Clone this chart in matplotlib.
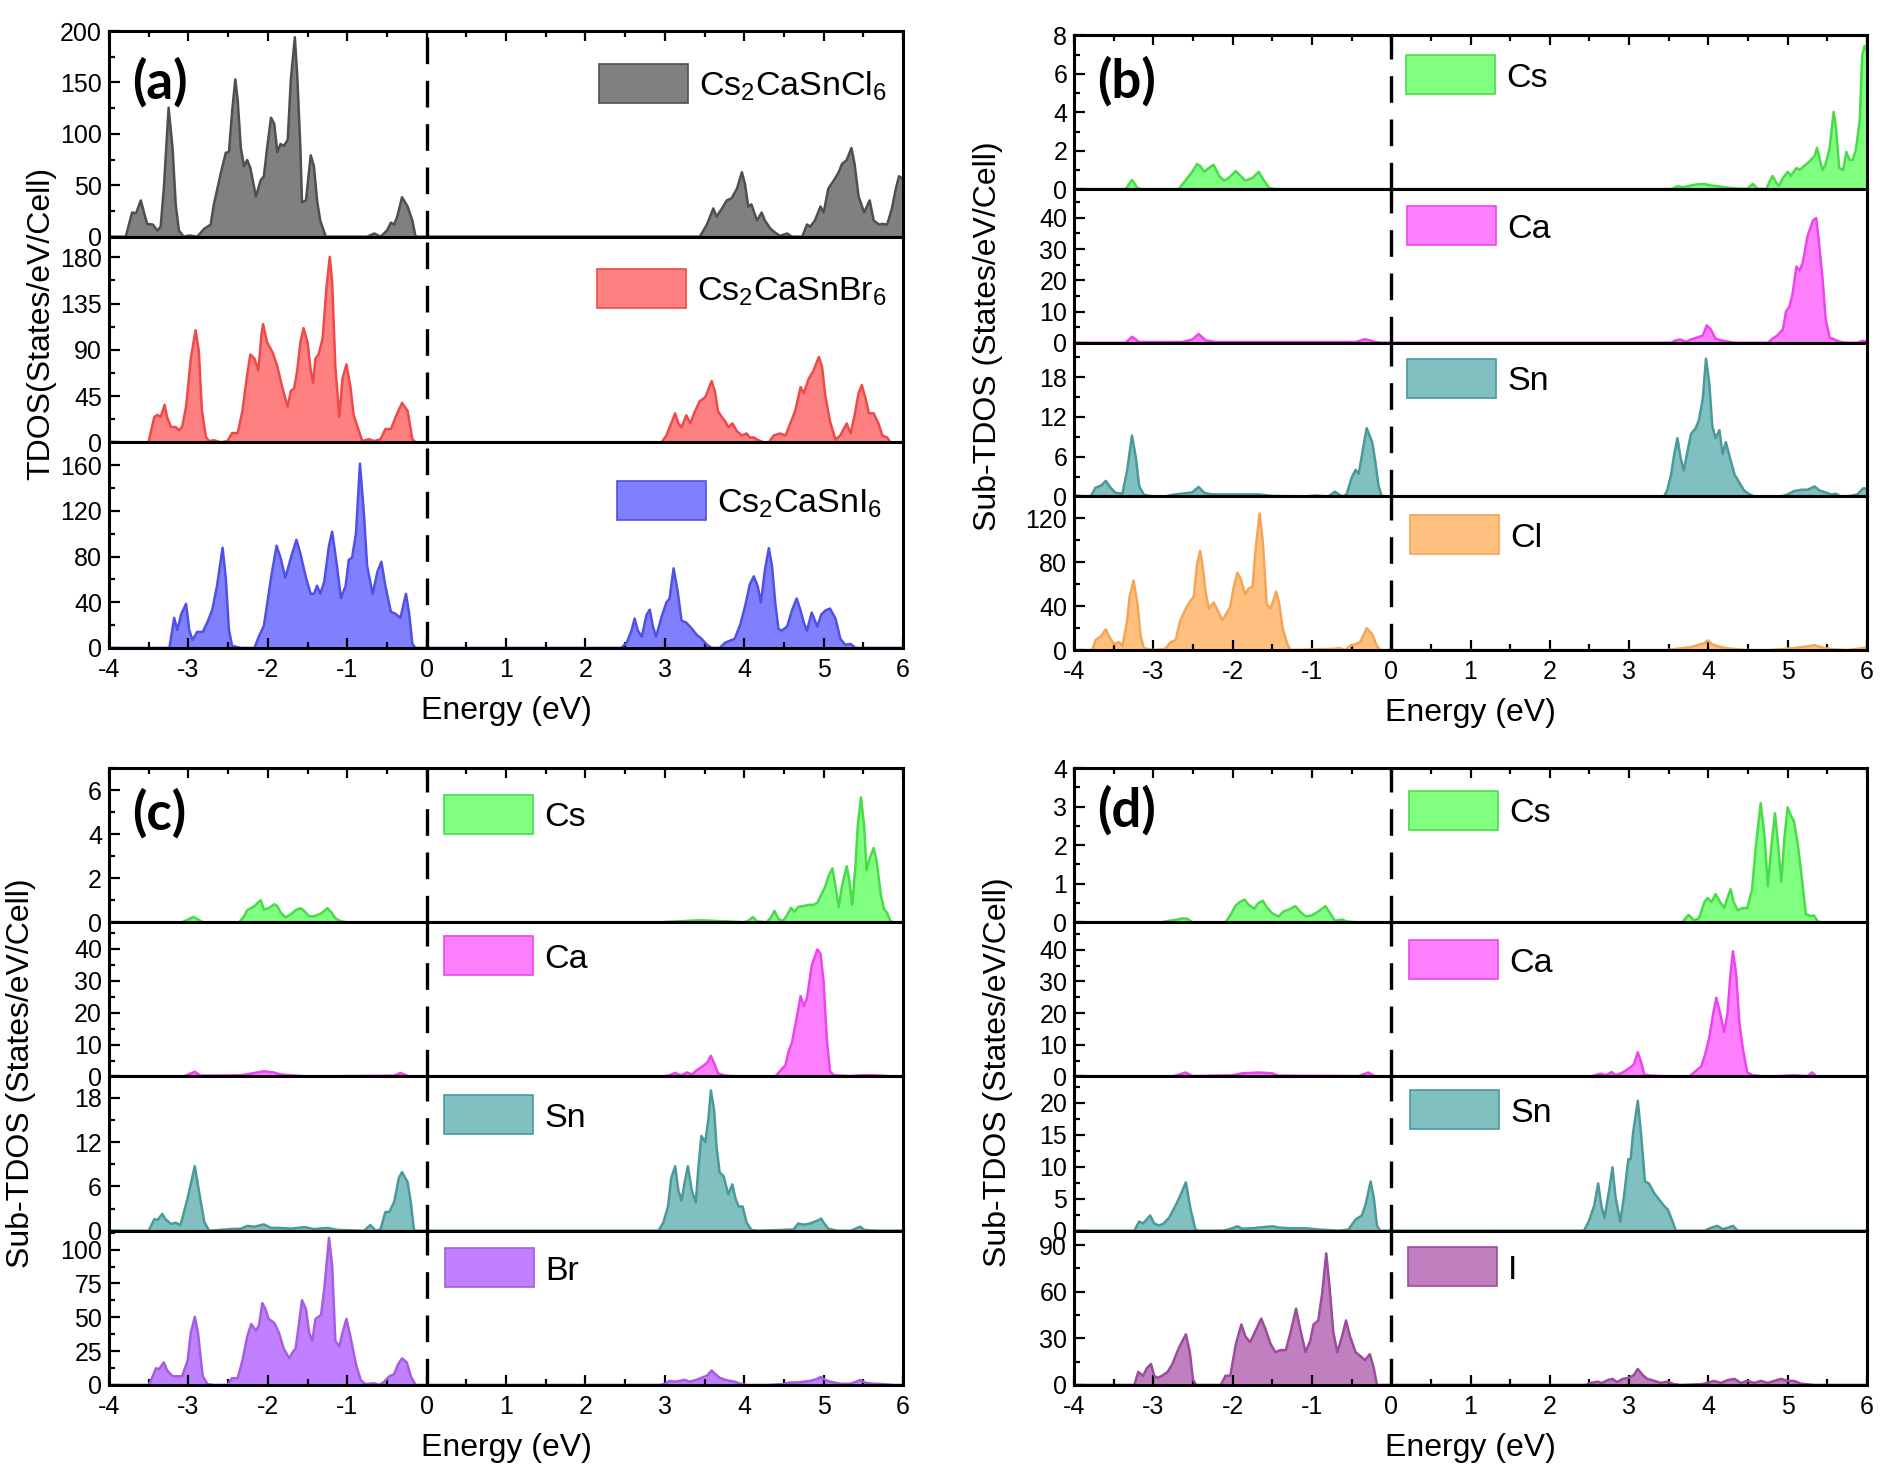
import numpy as np
import matplotlib
matplotlib.use("Agg")
import matplotlib.pyplot as plt
from matplotlib.patches import Rectangle
from matplotlib.ticker import MultipleLocator

# ---------------------------------------------------------------------------
# DOS curves: (energy in eV, states/eV/cell)
# ---------------------------------------------------------------------------
# panel (a): total DOS of the three compounds
tdos_cl6 = [(-4.0, 0), (-3.79, 0), (-3.71, 23.5), (-3.66, 22.7), (-3.60, 35.3), (-3.56, 23.5), (-3.52, 12.5),
            (-3.45, 11.8), (-3.39, 5.9), (-3.35, 9.8), (-3.31, 47), (-3.25, 125.5), (-3.20, 86), (-3.16, 31),
            (-3.12, 6), (-3.06, 0), (-2.99, 1.2), (-2.89, 0), (-2.80, 7.8), (-2.76, 9.8), (-2.72, 11.8),
            (-2.68, 31.4), (-2.59, 62.7), (-2.53, 81.6), (-2.49, 82.4), (-2.45, 121.6), (-2.41, 153), (-2.38, 133),
            (-2.34, 86), (-2.30, 68.6), (-2.26, 74.5), (-2.22, 66.7), (-2.15, 39.2), (-2.09, 54.9), (-2.05, 58.8),
            (-2.01, 86), (-1.96, 115.7), (-1.92, 109.8), (-1.88, 82.4), (-1.84, 90.2), (-1.80, 88.2), (-1.75, 94.1),
            (-1.71, 153), (-1.66, 194), (-1.63, 157), (-1.59, 86), (-1.57, 33.3), (-1.52, 35.3), (-1.46, 79.2),
            (-1.42, 68.6), (-1.38, 35.3), (-1.34, 15.7), (-1.27, 0), (-0.75, 0), (-0.66, 3.1), (-0.58, 0),
            (-0.50, 5.9), (-0.45, 13.7), (-0.41, 11.8), (-0.37, 19.6), (-0.31, 38.4), (-0.24, 29.4), (-0.18, 15.7),
            (-0.14, 0), (3.44, 0), (3.53, 11.8), (3.61, 27.5), (3.65, 19.6), (3.72, 27.5), (3.78, 35.3),
            (3.84, 37.3), (3.91, 47), (3.97, 62.7), (4.01, 51), (4.05, 29.4), (4.09, 31.4), (4.16, 15.7),
            (4.22, 23.5), (4.26, 15.7), (4.33, 7.8), (4.39, 3.9), (4.45, 0.8), (4.54, 3.1), (4.60, 0), (4.73, 0),
            (4.79, 11.8), (4.83, 9.8), (4.89, 15.7), (4.96, 29.4), (5.00, 23.5), (5.06, 47), (5.13, 54.9),
            (5.19, 62.7), (5.23, 70.6), (5.29, 74.5), (5.35, 86.3), (5.39, 70.6), (5.44, 39.2), (5.51, 23.5),
            (5.58, 35.3), (5.63, 15.7), (5.70, 11.8), (5.74, 12.5), (5.80, 11.8), (5.86, 27.5), (5.91, 47),
            (5.95, 58.8), (6.0, 56)]
tdos_br6 = [(-4.0, 0), (-3.52, 0), (-3.50, 1.2), (-3.43, 24.7), (-3.39, 26.7), (-3.35, 24.7), (-3.30, 36.5),
            (-3.27, 24.7), (-3.22, 14.9), (-3.16, 14.9), (-3.12, 11.8), (-3.08, 14.9), (-3.03, 34.5), (-2.97, 81.6),
            (-2.91, 109), (-2.87, 89.4), (-2.83, 30.6), (-2.78, 5.1), (-2.74, 1.2), (-2.68, 2), (-2.59, 0),
            (-2.51, 1.2), (-2.45, 9), (-2.38, 9), (-2.32, 30.6), (-2.26, 65.9), (-2.22, 85.5), (-2.17, 81.6),
            (-2.12, 69.8), (-2.08, 105), (-2.06, 114.9), (-2.01, 97.3), (-1.94, 87.5), (-1.88, 73.7), (-1.82, 54.1),
            (-1.75, 34.5), (-1.71, 50.2), (-1.67, 52.2), (-1.63, 69.8), (-1.59, 97.3), (-1.55, 111), (-1.50, 97.3),
            (-1.46, 69.8), (-1.43, 58), (-1.40, 81.6), (-1.36, 85.5), (-1.31, 101), (-1.26, 152), (-1.22, 180.4),
            (-1.19, 156), (-1.15, 73.7), (-1.10, 24.7), (-1.06, 62), (-1.01, 75.7), (-0.96, 54.1), (-0.92, 26.7),
            (-0.87, 14.9), (-0.81, 1.2), (-0.73, 3.1), (-0.66, 1.2), (-0.58, 3.1), (-0.52, 12.9), (-0.45, 12.9),
            (-0.39, 24.7), (-0.31, 38.4), (-0.24, 30.6), (-0.18, 3.1), (-0.14, 0), (2.96, 0), (3.02, 6.7),
            (3.08, 18.4), (3.13, 28.2), (3.17, 18.4), (3.21, 14.5), (3.27, 26.3), (3.32, 18.4), (3.38, 30.2),
            (3.44, 40), (3.51, 43.9), (3.59, 59.6), (3.63, 49.8), (3.67, 30.2), (3.72, 24.3), (3.76, 20.4),
            (3.80, 14.5), (3.85, 18.4), (3.91, 10.6), (3.97, 6.7), (4.03, 8.6), (4.07, 4.7), (4.12, 4.7),
            (4.16, 2.7), (4.24, 0), (4.31, 0), (4.37, 6.7), (4.45, 8.6), (4.52, 6.7), (4.58, 18.4), (4.64, 30.2),
            (4.71, 53.7), (4.75, 47.8), (4.81, 61.6), (4.87, 69.4), (4.94, 83.1), (4.98, 73.3), (5.02, 45.9),
            (5.08, 20.4), (5.15, 2.7), (5.21, 6.7), (5.29, 18.4), (5.34, 8.6), (5.39, 26.3), (5.44, 47.8),
            (5.48, 55.7), (5.53, 42), (5.57, 28.2), (5.63, 28.2), (5.69, 18.4), (5.74, 6.7), (5.80, 4.7),
            (5.84, 0), (6.0, 0)]
tdos_i6 = [(-4.0, 0), (-3.24, 0), (-3.18, 26.3), (-3.14, 15.8), (-3.09, 29.8), (-3.03, 38.6), (-2.99, 15.8),
           (-2.95, 7), (-2.89, 14), (-2.82, 14), (-2.76, 22.8), (-2.70, 33.3), (-2.64, 54.4), (-2.57, 87.7),
           (-2.53, 61.4), (-2.49, 15.8), (-2.45, 1.8), (-2.34, 0), (-2.17, 0), (-2.11, 10.5), (-2.05, 19.3),
           (-1.96, 61.4), (-1.89, 89.5), (-1.84, 78.9), (-1.78, 61.4), (-1.71, 78.9), (-1.64, 94.7), (-1.59, 82.5),
           (-1.52, 61.4), (-1.46, 47.4), (-1.42, 47.4), (-1.38, 54.4), (-1.34, 47.4), (-1.29, 57.9), (-1.23, 89.5),
           (-1.19, 101.8), (-1.13, 71.9), (-1.08, 43.9), (-1.02, 54.4), (-0.98, 77.2), (-0.94, 78.9), (-0.89, 100),
           (-0.84, 161.4), (-0.79, 117.5), (-0.75, 71.9), (-0.68, 47.4), (-0.62, 66.7), (-0.57, 75.4),
           (-0.52, 54.4), (-0.45, 31.6), (-0.39, 29.8), (-0.33, 26.3), (-0.26, 47.4), (-0.22, 29.8), (-0.18, 3.5),
           (-0.14, 0), (2.45, 0), (2.52, 4.6), (2.58, 15.1), (2.62, 25.7), (2.66, 15.1), (2.71, 9.9), (2.77, 29.2),
           (2.81, 33.5), (2.85, 18.7), (2.89, 9.9), (2.96, 27.5), (3.02, 39.8), (3.06, 43.3), (3.11, 69.7),
           (3.16, 50.4), (3.21, 23.9), (3.27, 22.2), (3.34, 16.9), (3.40, 11.6), (3.46, 8.1), (3.53, 2.8),
           (3.59, 0), (3.69, 0), (3.76, 4.6), (3.82, 6.3), (3.88, 8.1), (3.95, 20.4), (4.01, 36.3), (4.07, 55.6),
           (4.12, 62.7), (4.17, 53.9), (4.21, 39.8), (4.26, 68), (4.31, 87.3), (4.35, 71.5), (4.39, 39.8),
           (4.43, 16.9), (4.47, 15.1), (4.54, 18.7), (4.60, 32.7), (4.66, 43.3), (4.71, 32.7), (4.75, 22.2),
           (4.79, 15.1), (4.85, 31), (4.92, 18.7), (4.97, 29.2), (5.02, 32.7), (5.08, 34.5), (5.15, 25.7),
           (5.21, 8.1), (5.27, 2.8), (5.34, 3.5), (5.40, 0), (6.0, 0)]

# panel (b): Cs2CaSnCl6 partial DOS
b_cs = [(-4.0, 0), (-3.35, 0), (-3.27, 0.48), (-3.20, 0.06), (-3.14, 0), (-2.68, 0), (-2.59, 0.48), (-2.51, 0.9),
        (-2.45, 1.31), (-2.41, 1.21), (-2.36, 0.9), (-2.30, 1.1), (-2.24, 1.27), (-2.17, 0.69), (-2.11, 0.44),
        (-2.05, 0.58), (-1.96, 0.94), (-1.90, 0.69), (-1.84, 0.44), (-1.75, 0.58), (-1.67, 0.9), (-1.61, 0.48),
        (-1.54, 0.06), (-1.46, 0), (3.53, 0), (3.61, 0.15), (3.69, 0.1), (3.78, 0.19), (3.86, 0.25), (3.95, 0.27),
        (4.03, 0.19), (4.12, 0.15), (4.20, 0.1), (4.28, 0.06), (4.41, 0.02), (4.49, 0.02), (4.56, 0.27),
        (4.62, 0.02), (4.73, 0), (4.77, 0.38), (4.81, 0.69), (4.85, 0.38), (4.89, 0.17), (4.94, 0.58), (5.00, 0.9),
        (5.04, 0.69), (5.11, 1.1), (5.15, 1.0), (5.21, 1.21), (5.27, 1.42), (5.34, 1.73), (5.37, 2.15),
        (5.40, 1.63), (5.44, 1.0), (5.48, 1.31), (5.53, 2.15), (5.58, 4.02), (5.61, 3.19), (5.65, 1.1),
        (5.70, 1.0), (5.74, 1.94), (5.78, 1.52), (5.82, 1.52), (5.86, 2.04), (5.91, 3.6), (5.94, 6.94),
        (5.97, 7.46), (6.0, 7.2)]
b_ca = [(-4.0, 0), (-3.35, 0), (-3.27, 1.9), (-3.18, 0.25), (-2.64, 0.25), (-2.51, 1.0), (-2.43, 2.8),
        (-2.34, 0.76), (-2.22, 0.25), (-0.45, 0.25), (-0.33, 1.14), (-0.20, 0.25), (-0.14, 0), (3.53, 0),
        (3.59, 0.78), (3.65, 1.04), (3.72, 0.26), (3.78, 1.04), (3.86, 1.68), (3.93, 2.33), (3.98, 5.57),
        (4.03, 4.27), (4.09, 1.3), (4.16, 0.78), (4.24, 0.39), (4.33, 0), (4.75, 0), (4.81, 1.3), (4.87, 2.33),
        (4.94, 4.27), (4.98, 10.1), (5.02, 11.4), (5.06, 15.3), (5.11, 24.4), (5.15, 23.1), (5.19, 25.6),
        (5.25, 34.1), (5.32, 39.2), (5.36, 39.9), (5.39, 33.4), (5.44, 20.5), (5.48, 7.5), (5.53, 1.7),
        (5.59, 1.04), (5.65, 0.39), (5.72, 0), (5.88, 0), (5.95, 0.65), (6.0, 0.39)]
b_sn = [(-4.0, 0), (-3.79, 0), (-3.73, 1.32), (-3.66, 1.62), (-3.60, 2.34), (-3.54, 1.32), (-3.48, 0.54),
        (-3.39, 0.42), (-3.33, 4.0), (-3.27, 9.2), (-3.22, 5.8), (-3.18, 1.62), (-3.12, 0.24), (-3.01, 0),
        (-2.85, 0), (-2.76, 0.24), (-2.64, 0.42), (-2.51, 0.6), (-2.43, 1.44), (-2.36, 0.54), (-2.26, 0.3),
        (-1.67, 0.3), (-1.50, 0.06), (-1.08, 0), (-0.96, 0.12), (-0.79, 0), (-0.71, 0.72), (-0.64, 0.12),
        (-0.60, 0), (-0.56, 0.42), (-0.50, 2.8), (-0.45, 4.0), (-0.41, 3.4), (-0.35, 7.6), (-0.31, 10.3),
        (-0.24, 8.2), (-0.20, 5.2), (-0.16, 1.62), (-0.12, 0), (3.44, 0), (3.48, 0.9), (3.53, 3.3), (3.57, 6.4),
        (3.61, 8.8), (3.65, 5.8), (3.69, 3.9), (3.74, 7.0), (3.78, 9.4), (3.84, 10.3), (3.88, 11.5), (3.93, 14.8),
        (3.97, 20.8), (4.01, 17.3), (4.05, 10.6), (4.09, 8.8), (4.14, 10.0), (4.18, 6.4), (4.22, 8.2),
        (4.26, 6.4), (4.33, 3.3), (4.39, 2.1), (4.45, 0.9), (4.52, 0.3), (4.58, 0), (4.92, 0), (5.00, 0.3),
        (5.08, 0.8), (5.17, 1.0), (5.25, 1.0), (5.34, 1.5), (5.40, 0.9), (5.48, 0.6), (5.55, 0.3), (5.61, 0.4),
        (5.67, 0), (5.76, 0), (5.88, 0.3), (5.95, 1.2), (6.0, 1.2)]
b_cl = [(-4.0, 0), (-3.77, 0), (-3.73, 9), (-3.66, 12.6), (-3.60, 18.8), (-3.56, 12.6), (-3.50, 5.4),
        (-3.43, 7.2), (-3.39, 3.6), (-3.33, 27.1), (-3.30, 48.7), (-3.25, 63.2), (-3.20, 41.5), (-3.16, 12.6),
        (-3.12, 1.8), (-3.01, 0), (-2.85, 1.1), (-2.78, 7.2), (-2.72, 9), (-2.66, 27.1), (-2.59, 37.9),
        (-2.53, 45.1), (-2.49, 48.7), (-2.45, 77.6), (-2.41, 90.3), (-2.38, 77.6), (-2.34, 52.3), (-2.30, 37.9),
        (-2.24, 43.3), (-2.20, 37.9), (-2.13, 27.1), (-2.07, 34.3), (-2.03, 39.7), (-1.99, 56), (-1.94, 70.4),
        (-1.90, 65), (-1.84, 50.5), (-1.80, 56), (-1.75, 57.8), (-1.71, 92.1), (-1.66, 124.5), (-1.62, 99.3),
        (-1.57, 41.5), (-1.52, 37.9), (-1.45, 53.1), (-1.41, 41.5), (-1.37, 19.9), (-1.31, 5.4), (-1.27, 0),
        (-0.71, 1.1), (-0.66, 1.8), (-0.58, 0), (-0.52, 3.6), (-0.45, 5.4), (-0.39, 7.2), (-0.31, 19.9),
        (-0.24, 14.4), (-0.18, 3.6), (-0.14, 0), (3.48, 0), (3.55, 0.7), (3.65, 1.5), (3.78, 2.6), (3.86, 4.4),
        (3.95, 6.2), (3.99, 8.8), (4.05, 5.1), (4.16, 2.6), (4.24, 1.5), (4.37, 0.7), (4.49, 0), (4.75, 0),
        (4.92, 0.7), (5.08, 1.8), (5.25, 3.3), (5.34, 4.4), (5.42, 2.6), (5.55, 0.7), (5.76, 0), (5.93, 1.5),
        (6.0, 2.6)]

# panel (c): Cs2CaSnBr6 partial DOS
c_cs = [(-4.0, 0), (-3.08, 0), (-2.99, 0.15), (-2.94, 0.25), (-2.89, 0.15), (-2.82, 0), (-2.36, 0), (-2.30, 0.27),
        (-2.26, 0.55), (-2.17, 0.73), (-2.12, 0.91), (-2.09, 1.0), (-2.05, 0.58), (-1.99, 0.64), (-1.92, 0.82),
        (-1.88, 0.73), (-1.84, 0.45), (-1.78, 0.22), (-1.71, 0.36), (-1.65, 0.55), (-1.59, 0.64), (-1.54, 0.51),
        (-1.48, 0.27), (-1.42, 0.27), (-1.33, 0.4), (-1.25, 0.64), (-1.20, 0.45), (-1.15, 0.18), (-1.08, 0.04),
        (-1.00, 0), (2.94, 0), (3.44, 0.09), (3.78, 0.04), (3.99, 0), (4.05, 0.06), (4.11, 0.24), (4.16, 0.04),
        (4.28, 0), (4.33, 0.18), (4.38, 0.52), (4.43, 0.15), (4.49, 0.06), (4.54, 0.33), (4.59, 0.66),
        (4.63, 0.48), (4.68, 0.7), (4.75, 0.74), (4.81, 0.79), (4.87, 0.79), (4.92, 0.88), (4.97, 1.25),
        (5.02, 1.62), (5.06, 2.08), (5.11, 2.45), (5.15, 1.62), (5.19, 0.7), (5.23, 1.62), (5.29, 2.54),
        (5.32, 1.99), (5.36, 0.79), (5.40, 2.54), (5.43, 4.38), (5.47, 5.67), (5.51, 4.38), (5.54, 2.36),
        (5.58, 2.91), (5.63, 3.37), (5.67, 2.73), (5.72, 1.25), (5.76, 0.61), (5.80, 0.42), (5.84, 0.06),
        (5.88, 0), (6.0, 0)]
c_ca = [(-4.0, 0), (-3.06, 0), (-2.92, 1.5), (-2.85, 0.25), (-2.34, 0.38), (-2.22, 0.88), (-2.05, 1.63),
        (-1.92, 1.25), (-1.84, 0.63), (-1.50, 0), (-0.41, 0.25), (-0.33, 1.13), (-0.22, 0), (2.98, 0),
        (3.06, 0.38), (3.13, 1.14), (3.19, 0.38), (3.23, 0.64), (3.28, 1.27), (3.34, 0.64), (3.40, 1.91),
        (3.46, 2.92), (3.53, 4.19), (3.58, 6.48), (3.63, 3.56), (3.67, 1.02), (3.74, 0.38), (3.82, 0.13),
        (3.99, 0), (4.39, 0), (4.45, 1.65), (4.52, 3.56), (4.56, 8.0), (4.60, 10.5), (4.64, 15.6), (4.71, 25.2),
        (4.75, 22), (4.79, 24.5), (4.85, 34.7), (4.92, 39.8), (4.96, 38.5), (5.00, 29.6), (5.04, 11.8),
        (5.08, 1.65), (5.13, 0.38), (5.34, 0.13), (5.46, 0.38), (5.63, 0.38), (5.76, 0.25), (5.84, 0), (6.0, 0)]
c_sn = [(-4.0, 0), (-3.50, 0), (-3.43, 1.57), (-3.39, 1.46), (-3.33, 2.27), (-3.29, 1.57), (-3.22, 0.92),
        (-3.16, 1.08), (-3.10, 0.76), (-3.01, 4.43), (-2.92, 8.76), (-2.87, 5.51), (-2.80, 1.19), (-2.74, 0),
        (-2.47, 0.22), (-2.34, 0.27), (-2.26, 0.65), (-2.17, 0.54), (-2.05, 0.86), (-1.96, 0.38), (-1.84, 0.38),
        (-1.71, 0.27), (-1.54, 0.49), (-1.42, 0.22), (-1.25, 0.38), (-1.12, 0.11), (-0.79, 0), (-0.71, 0.76),
        (-0.64, 0), (-0.58, 0.22), (-0.52, 2.54), (-0.47, 2.54), (-0.41, 3.89), (-0.35, 7.14), (-0.31, 7.95),
        (-0.24, 6.59), (-0.20, 3.89), (-0.16, 0.11), (-0.12, 0), (2.92, 0), (2.98, 1.09), (3.04, 3.28),
        (3.08, 7.1), (3.13, 8.74), (3.17, 5.46), (3.21, 4.1), (3.25, 6.56), (3.29, 8.74), (3.34, 5.46),
        (3.39, 3.83), (3.42, 8.2), (3.46, 12.84), (3.51, 12.02), (3.55, 15.3), (3.58, 19.02), (3.62, 16.39),
        (3.65, 11.48), (3.69, 7.92), (3.74, 7.38), (3.80, 4.92), (3.85, 6.28), (3.89, 4.37), (3.93, 3.28),
        (3.98, 3.28), (4.03, 1.09), (4.09, 0.11), (4.16, 0), (4.62, 0.16), (4.68, 0.98), (4.75, 0.82),
        (4.83, 0.98), (4.92, 1.37), (4.97, 1.64), (5.00, 1.09), (5.06, 0.27), (5.17, 0), (5.34, 0), (5.40, 0.27),
        (5.46, 0.55), (5.51, 0.11), (5.67, 0), (6.0, 0)]
c_br = [(-4.0, 0), (-3.50, 0), (-3.45, 6.4), (-3.41, 12.3), (-3.37, 11.7), (-3.31, 16.7), (-3.27, 10.8),
        (-3.20, 6.4), (-3.14, 6.4), (-3.08, 6.4), (-3.01, 18.1), (-2.97, 38.6), (-2.92, 50.3), (-2.88, 38.6),
        (-2.82, 6.4), (-2.76, 0.6), (-2.68, 0), (-2.51, 0), (-2.45, 5), (-2.38, 5), (-2.32, 18.1), (-2.26, 35.7),
        (-2.21, 45), (-2.15, 40.1), (-2.11, 44.4), (-2.07, 60.5), (-2.03, 56.1), (-1.99, 48.8), (-1.92, 45.9),
        (-1.86, 38.6), (-1.80, 26.9), (-1.73, 19.6), (-1.69, 24), (-1.65, 26.9), (-1.61, 44.4), (-1.57, 62.6),
        (-1.52, 56.1), (-1.48, 38.6), (-1.44, 32.7), (-1.40, 48.8), (-1.33, 51.8), (-1.29, 70.8), (-1.23, 108.8),
        (-1.19, 88.3), (-1.15, 32.7), (-1.10, 28.4), (-1.06, 38.6), (-1.01, 48.8), (-0.96, 35.7), (-0.89, 15.2),
        (-0.83, 3.5), (-0.77, 0.6), (-0.66, 1.2), (-0.60, 0), (-0.54, 2), (-0.47, 6.4), (-0.41, 7.9),
        (-0.36, 15.2), (-0.31, 19.6), (-0.25, 16.7), (-0.20, 6.4), (-0.14, 0), (2.94, 0), (3.00, 0.9), (3.06, 3),
        (3.13, 2.4), (3.19, 3), (3.25, 3.8), (3.31, 2.4), (3.40, 3.8), (3.46, 5.3), (3.53, 6.8), (3.59, 10.7),
        (3.63, 8.3), (3.69, 5.3), (3.76, 3.8), (3.82, 3), (3.88, 2.4), (3.95, 0.9), (4.03, 0), (4.28, 0),
        (4.49, 0.6), (4.58, 1.8), (4.66, 1.8), (4.75, 2.4), (4.83, 3), (4.92, 4.4), (4.96, 5.9), (5.02, 3.8),
        (5.08, 2.4), (5.21, 0.9), (5.34, 0.9), (5.46, 3.6), (5.53, 1.5), (5.63, 0.9), (5.76, 0.6), (5.88, 0),
        (6.0, 0)]

# panel (d): Cs2CaSnI6 partial DOS
d_cs = [(-4.0, 0), (-2.89, 0), (-2.80, 0.04), (-2.70, 0.07), (-2.64, 0.1), (-2.57, 0.09), (-2.51, 0), (-2.09, 0),
        (-2.03, 0.18), (-1.96, 0.44), (-1.90, 0.54), (-1.85, 0.59), (-1.80, 0.46), (-1.73, 0.35), (-1.68, 0.49),
        (-1.62, 0.56), (-1.57, 0.39), (-1.50, 0.23), (-1.42, 0.15), (-1.36, 0.28), (-1.29, 0.33), (-1.21, 0.42),
        (-1.15, 0.28), (-1.08, 0.15), (-1.00, 0.18), (-0.92, 0.28), (-0.83, 0.42), (-0.77, 0.23), (-0.71, 0.04),
        (-0.62, 0.07), (-0.56, 0.02), (-0.45, 0), (3.67, 0), (3.75, 0.19), (3.82, 0.05), (3.88, 0.1),
        (3.95, 0.52), (3.99, 0.63), (4.04, 0.52), (4.09, 0.73), (4.15, 0.52), (4.20, 0.37), (4.24, 0.63),
        (4.28, 0.86), (4.32, 0.52), (4.37, 0.31), (4.43, 0.37), (4.49, 0.37), (4.55, 0.84), (4.60, 1.99),
        (4.66, 3.09), (4.71, 2.2), (4.75, 0.94), (4.79, 1.88), (4.84, 2.83), (4.88, 1.99), (4.92, 1.05),
        (4.96, 2.2), (5.00, 2.98), (5.04, 2.77), (5.08, 2.62), (5.13, 1.99), (5.19, 0.94), (5.23, 0.21),
        (5.29, 0.16), (5.33, 0.18), (5.38, 0.02), (5.42, 0), (6.0, 0)]
d_ca = [(-4.0, 0), (-2.76, 0), (-2.59, 1.26), (-2.51, 0.13), (-2.01, 0.38), (-1.88, 1.0), (-1.67, 1.26),
        (-1.50, 1.0), (-1.42, 0.25), (-0.41, 0.13), (-0.29, 1.26), (-0.20, 0), (2.52, 0), (2.60, 0.64),
        (2.64, 0.89), (2.71, 0.38), (2.78, 1.4), (2.83, 0.38), (2.92, 1.28), (3.00, 2.55), (3.06, 3.83),
        (3.11, 7.65), (3.16, 3.83), (3.19, 0.64), (3.27, 0.26), (3.57, 0), (3.76, 0), (3.82, 1.28), (3.91, 3.19),
        (3.96, 7.02), (4.01, 12.12), (4.06, 19.77), (4.10, 24.87), (4.15, 19.77), (4.20, 14.03), (4.24, 19.77),
        (4.28, 32.53), (4.31, 39.54), (4.35, 32.53), (4.39, 17.22), (4.43, 9.57), (4.49, 1.28), (4.56, 0.38),
        (4.71, 0), (4.92, 0.13), (5.08, 0.38), (5.25, 0.13), (5.31, 1.28), (5.36, 0), (6.0, 0)]
d_sn = [(-4.0, 0), (-3.24, 0), (-3.18, 1.44), (-3.13, 1.13), (-3.04, 2.38), (-2.99, 1.13), (-2.93, 0.81),
        (-2.87, 1.13), (-2.80, 2.06), (-2.72, 3.94), (-2.66, 5.5), (-2.59, 7.56), (-2.53, 3.31), (-2.47, 0.19),
        (-2.43, 0), (-2.13, 0), (-2.05, 0.19), (-1.94, 0.69), (-1.88, 0.31), (-1.75, 0.38), (-1.67, 0.5),
        (-1.50, 0.69), (-1.42, 0.5), (-1.29, 0.38), (-1.08, 0.38), (-0.92, 0.19), (-0.66, 0), (-0.54, 0.19),
        (-0.45, 1.75), (-0.37, 2.38), (-0.32, 4.25), (-0.26, 7.69), (-0.22, 5.19), (-0.18, 0.81), (-0.14, 0),
        (2.43, 0), (2.49, 1.39), (2.56, 3.91), (2.61, 7.38), (2.65, 3.91), (2.69, 2.02), (2.75, 6.44),
        (2.79, 9.91), (2.83, 5.17), (2.89, 1.39), (2.94, 5.8), (2.99, 11.17), (3.02, 11.17), (3.05, 15.27),
        (3.11, 20.32), (3.15, 15.27), (3.20, 7.7), (3.25, 7.38), (3.32, 5.8), (3.38, 4.86), (3.44, 3.91),
        (3.49, 3.28), (3.55, 1.39), (3.59, 0), (3.95, 0), (4.03, 0.44), (4.11, 0.76), (4.18, 0.25), (4.24, 0.44),
        (4.31, 0.76), (4.37, 0), (6.0, 0)]
d_i = [(-4.0, 0), (-3.24, 0), (-3.19, 8.4), (-3.13, 5.9), (-3.08, 10.9), (-3.03, 13.5), (-2.99, 5.9),
       (-2.95, 4.6), (-2.89, 5.9), (-2.82, 8.4), (-2.76, 13.5), (-2.68, 23.7), (-2.59, 32.6), (-2.54, 21.1),
       (-2.50, 3.3), (-2.46, 0), (-2.15, 0), (-2.09, 5.9), (-2.03, 5.9), (-1.96, 26.2), (-1.89, 38.9),
       (-1.84, 31.3), (-1.78, 27.5), (-1.71, 35.1), (-1.64, 42.7), (-1.59, 36.4), (-1.52, 26.2), (-1.46, 21.1),
       (-1.40, 22.4), (-1.33, 22.4), (-1.27, 33.8), (-1.20, 49.1), (-1.15, 36.4), (-1.08, 21.1), (-1.02, 28.8),
       (-0.98, 38.9), (-0.92, 41.5), (-0.87, 59.3), (-0.82, 84.7), (-0.78, 64.4), (-0.73, 33.8), (-0.68, 21.1),
       (-0.62, 31.3), (-0.57, 41.5), (-0.52, 31.3), (-0.45, 21.1), (-0.39, 18.6), (-0.33, 16), (-0.27, 19.8),
       (-0.22, 10.9), (-0.18, 0), (2.45, 0), (2.52, 1.3), (2.60, 2.1), (2.66, 1.3), (2.73, 3.1), (2.79, 3.9),
       (2.85, 1.8), (2.92, 3.9), (3.00, 4.6), (3.06, 6.4), (3.11, 10.3), (3.17, 6.4), (3.23, 3.9), (3.32, 2.6),
       (3.40, 1.3), (3.48, 2.1), (3.57, 0.5), (3.65, 0), (3.91, 0.5), (3.99, 1.3), (4.07, 2.6), (4.16, 1.3),
       (4.24, 3.1), (4.33, 3.9), (4.41, 1.3), (4.49, 2.6), (4.58, 1.3), (4.66, 2.6), (4.75, 1.3), (4.83, 2.6),
       (4.92, 3.9), (5.00, 2.6), (5.08, 2.6), (5.17, 0.8), (5.34, 0), (6.0, 0)]

# ---------------------------------------------------------------------------
# Styling
# ---------------------------------------------------------------------------
plt.rcParams.update({
    "font.family": ["Liberation Sans", "DejaVu Sans"],
    "mathtext.fontset": "custom",
    "mathtext.rm": "Liberation Sans",
    "mathtext.it": "Liberation Sans:italic",
    "mathtext.bf": "Liberation Sans:bold",
    "axes.unicode_minus": False,
    "axes.linewidth": 2.2,
    "xtick.direction": "in", "ytick.direction": "in",
    "xtick.labelsize": 18, "ytick.labelsize": 18,
})

# (fill colour, outline colour)
COLORS = {
    "gray": ("#808080", "#4f4f4f"),
    "red": ("#ff8080", "#ee4a4a"),
    "blue": ("#8080ff", "#5050e6"),
    "green": ("#80ff80", "#48dc48"),
    "magenta": ("#ff80ff", "#ee44ee"),
    "teal": ("#80c0c0", "#4a9a9a"),
    "orange": ("#ffc080", "#f5a555"),
    "purple": ("#c080ff", "#a65ee0"),
    "mauve": ("#c080c0", "#9c4c9c"),
}

LABEL_FS = 23
LEGEND_FS = 24.5
TAG_FS = 38
FIG_W, FIG_H = 1890, 1479

# each row: legend label, data, colour, y-top, y-major step, swatch (left, top) in axes fraction
panels = [
    dict(tag="(a)", rect=(0.0577, 0.4778, 0.5619, 0.979), tag_y=0.75,
         ylabel="TDOS(States/eV/Cell)", ylabel_xy=(0.0217, 0.7816),
         rows=[("Cs$_2$CaSnCl$_6$", tdos_cl6, "gray", 200, 50, (0.617, 0.84)),
               ("Cs$_2$CaSnBr$_6$", tdos_br6, "red", 200, 45, (0.614, 0.845)),
               ("Cs$_2$CaSnI$_6$", tdos_i6, "blue", 180, 40, (0.640, 0.81))]),
    dict(tag="(b)", rect=(0.5683, 0.9878, 0.5605, 0.976), tag_y=0.70,
         ylabel="Sub-TDOS (States/eV/Cell)", ylabel_xy=(0.523, 0.7725),
         rows=[("Cs", b_cs, "green", 8, 2, (0.419, 0.874)),
               ("Ca", b_ca, "magenta", 49.2, 10, (0.420, 0.889)),
               ("Sn", b_sn, "teal", 23.2, 6, (0.420, 0.896)),
               ("Cl", b_cl, "orange", 140, 40, (0.424, 0.876))]),
    dict(tag="(c)", rect=(0.0577, 0.4778, 0.0636, 0.4807), tag_y=0.71,
         ylabel="Sub-TDOS (States/eV/Cell)", ylabel_xy=(0.011, 0.2745),
         rows=[("Cs", c_cs, "green", 7, 2, (0.422, 0.828)),
               ("Ca", c_ca, "magenta", 48.3, 10, (0.422, 0.908)),
               ("Sn", c_sn, "teal", 20.9, 6, (0.422, 0.877)),
               ("Br", c_br, "purple", 114, 25, (0.423, 0.887))]),
    dict(tag="(d)", rect=(0.5683, 0.9878, 0.0636, 0.4807), tag_y=0.73,
         ylabel="Sub-TDOS (States/eV/Cell)", ylabel_xy=(0.528, 0.275),
         rows=[("Cs", d_cs, "green", 4, 1, (0.423, 0.853)),
               ("Ca", d_ca, "magenta", 48.7, 10, (0.423, 0.883)),
               ("Sn", d_sn, "teal", 24.1, 5, (0.424, 0.912)),
               ("I", d_i, "mauve", 99.3, 30, (0.421, 0.892))]),
]

fig = plt.figure(figsize=(FIG_W / 100, FIG_H / 100), dpi=100)

for p in panels:
    left, right, bottom, top = p["rect"]
    n = len(p["rows"])
    gs = fig.add_gridspec(n, 1, left=left, right=right, bottom=bottom, top=top, hspace=0)
    ax_w_px = (right - left) * FIG_W
    ax_h_px = (top - bottom) * FIG_H / n
    sw_w, sw_h = 89 / ax_w_px, 39 / ax_h_px
    gap = 11 / ax_w_px

    for i, (name, data, col, ytop, ystep, (lx, ly)) in enumerate(p["rows"]):
        ax = fig.add_subplot(gs[i])
        e, d = np.array(data, dtype=float).T
        fc, lc = COLORS[col]
        ax.fill_between(e, d, 0, color=fc, lw=0, zorder=1)
        ax.plot(e, d, color=lc, lw=1.8, zorder=2, solid_joinstyle="round")
        ax.axvline(0, color="black", lw=2.4, ls=(0, (8, 5)), zorder=3)

        ax.set_xlim(-4, 6)
        ax.set_ylim(0, ytop)
        ax.xaxis.set_major_locator(MultipleLocator(1))
        ax.xaxis.set_minor_locator(MultipleLocator(0.5))
        ax.yaxis.set_major_locator(MultipleLocator(ystep))
        ax.yaxis.set_minor_locator(MultipleLocator(ystep / 2))
        ax.tick_params(axis="y", which="both", left=True, right=False, width=1.6, pad=5)
        ax.tick_params(axis="y", which="major", length=8)
        ax.tick_params(axis="y", which="minor", length=4)
        ax.tick_params(axis="x", which="both", top=(i == 0), bottom=(i == n - 1),
                       labelbottom=(i == n - 1), width=1.6, pad=7)
        ax.tick_params(axis="x", which="major", length=7)
        ax.tick_params(axis="x", which="minor", length=4)

        # legend swatch + label
        ax.add_patch(Rectangle((lx, ly - sw_h), sw_w, sw_h, transform=ax.transAxes,
                               facecolor=fc, edgecolor=lc, lw=1.2, zorder=4))
        ax.annotate(name, xy=(lx + sw_w + gap, ly - sw_h / 2), xycoords="axes fraction",
                    xytext=(0, -0.358 * LEGEND_FS), textcoords="offset points",
                    ha="left", va="baseline", fontsize=LEGEND_FS, zorder=5)

        if i == 0:
            ax.text(0.029, p["tag_y"], p["tag"], transform=ax.transAxes, fontsize=TAG_FS,
                    fontweight="bold", family=["Lato", "DejaVu Sans"], ha="left", va="center")
        if i == n - 1:
            ax.set_xlabel("Energy (eV)", fontsize=LABEL_FS, labelpad=10)

    fig.text(p["ylabel_xy"][0], p["ylabel_xy"][1], p["ylabel"], rotation=90,
             ha="center", va="center", fontsize=LABEL_FS)

fig.savefig("out.png", dpi=100)
